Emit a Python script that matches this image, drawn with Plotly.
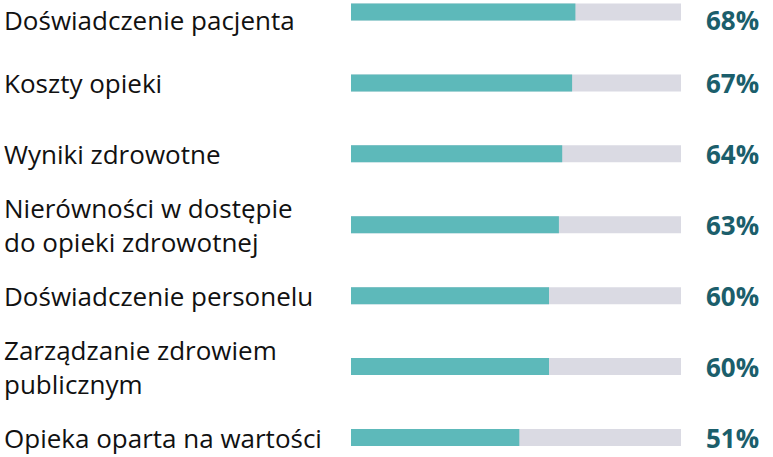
import plotly.graph_objects as go

categories = [
    "Doświadczenie pacjenta",
    "Koszty opieki",
    "Wyniki zdrowotne",
    "Nierówności w dostępie<br>do opieki zdrowotnej",
    "Doświadczenie personelu",
    "Zarządzanie zdrowiem<br>publicznym",
    "Opieka oparta na wartości",
]
values = [68, 67, 64, 63, 60, 60, 51]
value_labels = [f"{v}%" for v in values]

TEAL = "#5DB9BA"
GRAY = "#DADAE3"
DARK = "#1B5E6B"
FONT = "Open Sans"

pos = list(range(len(categories)))

fig = go.Figure()
fig.add_trace(go.Bar(
    y=pos, x=[100] * len(values), orientation="h",
    marker=dict(color=GRAY, line=dict(width=0)), width=0.24,
    hoverinfo="skip", showlegend=False,
))
fig.add_trace(go.Bar(
    y=pos, x=values, orientation="h",
    marker=dict(color=TEAL, line=dict(width=0)), width=0.24,
    showlegend=False,
))

W, H = 773, 457
L, R = 351, 681
pw = R - L
Y_RANGE = [6.275, -0.169]

annotations = []
for i, (c, lab) in enumerate(zip(categories, value_labels)):
    if i == 0:
        ya, yv = "top", Y_RANGE[1]
    else:
        ya, yv = "middle", i
    annotations.append(dict(
        xref="paper", yref="y", x=(2 - L) / pw, y=yv,
        text=c, showarrow=False, xanchor="left", yanchor=ya, align="left",
        font=dict(family=FONT, size=26, color="#111111"),
    ))
    annotations.append(dict(
        xref="paper", yref="y", x=(704 - L) / pw, y=yv,
        text=f"<b>{lab}</b>", showarrow=False, xanchor="left", yanchor=ya,
        font=dict(family=FONT, size=26, color=DARK),
    ))

fig.update_layout(
    width=W, height=H,
    margin=dict(l=L, r=W - R, t=0, b=0),
    barmode="overlay",
    paper_bgcolor="white", plot_bgcolor="white",
    xaxis=dict(range=[0, 100], visible=False, fixedrange=True),
    yaxis=dict(range=Y_RANGE, visible=False, fixedrange=True),
    annotations=annotations,
)

fig.write_html(
    "out.html",
    config={"displayModeBar": False},
    post_script="document.body.style.margin='0';document.body.style.overflow='hidden';",
)
